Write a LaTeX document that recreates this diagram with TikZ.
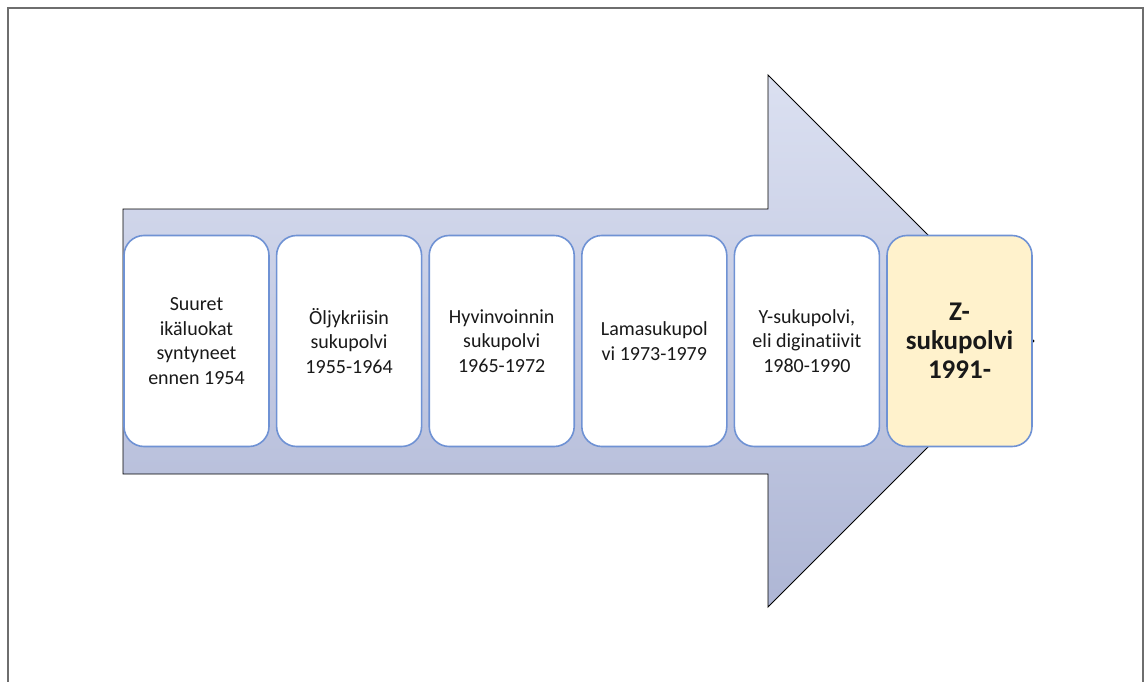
\documentclass[tikz,border=0pt]{standalone}
\usepackage{fontspec}
\setmainfont{Carlito}[Ligatures={NoCommon}]
\usepackage{tikz}
\usetikzlibrary{positioning}
\definecolor{boxline}{RGB}{111,146,212}
\definecolor{arrowtop}{RGB}{219,224,241}
\definecolor{arrowbot}{RGB}{174,182,213}
\definecolor{zfill}{RGB}{255,242,204}
\definecolor{framegray}{RGB}{110,110,110}
\tikzstyle{gen}=[draw=boxline,line width=1.6pt,fill=white,rounded corners=20pt,minimum width=145pt,minimum height=211pt,align=center,inner sep=0pt,text=black!90,font=\fontsize{20}{24.5}\selectfont]
\tikzstyle{genz}=[gen,fill=zfill,font=\fontsize{27}{29}\selectfont\bfseries]
\tikzstyle{bigarrow}=[top color=arrowtop,bottom color=arrowbot,draw=black,line width=0.9pt]

\begin{document}
\begin{tikzpicture}[x=1pt,y=-1pt]
        \useasboundingbox (0,0) rectangle (1145,682);
        \draw[framegray,line width=1.5pt] (8,682) -- (8,8) -- (1143,8) -- (1143,682);
        % the timeline arrow
        \shade[bigarrow] (123,209) -- (768,209) -- (768,75) -- (1034,341)
          -- (768,607) -- (768,474) -- (123,474) -- cycle;
        % generations
        \node[gen] (suuret) at (196.5,341) {Suuret\\ikäluokat\\syntyneet\\ennen 1954};
        \node[gen,right=6pt of suuret] (oljy) {Öljykriisin\\sukupolvi\\1955-1964};
        \node[gen,right=6pt of oljy] (hyvinvointi) {Hyvinvoinnin\\sukupolvi\\1965-1972};
        \node[gen,right=6pt of hyvinvointi] (lama) {Lamasukupol\\vi 1973-1979};
        \node[gen,right=6pt of lama] (ysuku) {Y-sukupolvi,\\eli diginatiivit\\1980-1990};
        \node[genz,right=6pt of ysuku] (zsuku) {Z-\\sukupolvi\\1991-};
      \end{tikzpicture}
\end{document}
